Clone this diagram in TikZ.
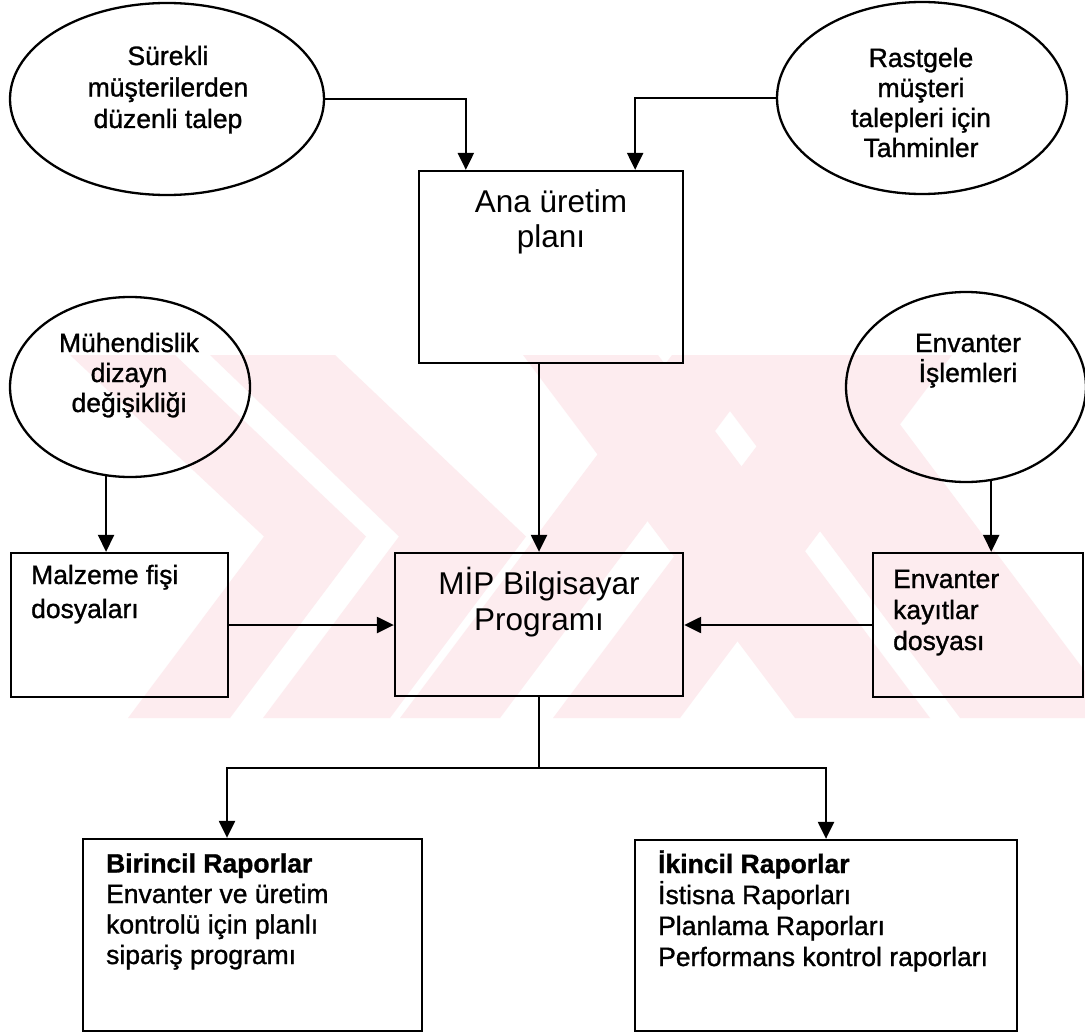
\documentclass[tikz,border=0pt]{standalone}
\usepackage{fontspec}
\setmainfont{Liberation Sans}
\newfontfamily\heavy[FakeBold=1.1]{Liberation Sans}
\usetikzlibrary{shapes.geometric,arrows.meta,calc}
\definecolor{wm}{RGB}{253,236,239}

\begin{document}
\begin{tikzpicture}[x=1pt,y=-1pt,line width=2.3pt,
  every node/.style={inner sep=0pt},
  arr/.style={-{Triangle[length=17pt,width=16pt]}},
  oval/.style={draw,ellipse,line width=2.3pt},
  frame/.style={draw,rectangle,line width=2.3pt},
  txt/.style={font=\heavy\fontsize{26.5}{#1}\selectfont},
  big/.style={font=\fontsize{31.5}{#1}\selectfont}]

\useasboundingbox (0,0) rectangle (1085,1033);
\fill[white] (0,0) rectangle (1085,1033);

% faint striped emblem in the background
\begin{scope}
  \clip (0,355) rectangle (1085,718);
  \foreach \a/\b/\c/\d in {70/175/128/230, 210/335/263/390}
    \fill[wm] (\a,355) -- (\b,355) -- ({\d+136},536.5) -- (\d,718) -- (\c,718) -- ({\c+136},536.5) -- cycle;
  \foreach \a/\b in {400/500, 553/680}
    \fill[wm] (\a,718) -- (\b,718) -- ({\b+272},355) -- ({\a+272},355) -- cycle;
  \foreach \a/\b in {795/930, 960/1120}
    \fill[wm] (\a,718) -- (\b,718) -- ({\b-272},355) -- ({\a-272},355) -- cycle;
\end{scope}

% inputs
\node[oval,minimum width=314pt,minimum height=192pt] (e1) at (167,99) {};
\node[oval,minimum width=290pt,minimum height=192pt] (e2) at (922,98) {};
\node[oval,minimum width=240pt,minimum height=180pt] (muh) at (130,387) {};
\node[oval,minimum width=240pt,minimum height=190pt] (envE) at (966,387) {};

% (anchor=base sits on the last line of each text)
\node[txt=31.5,align=center,anchor=base] (t1) at (168,128) {Sürekli\\müşterilerden\\düzenli talep};
\node[txt=30,align=center,anchor=base] (t2) at (921,157) {Rastgele\\müşteri\\talepleri için\\Tahminler};
\node[txt=30,align=center,anchor=base] (t3) at (129,412) {Mühendislik\\dizayn\\değişikliği};
\node[txt=30,align=center,anchor=base] (t4) at (968,382) {Envanter\\İşlemleri};

% files and processing
\node[frame,minimum width=264pt,minimum height=192pt] (ana) at (551,267) {};
\node[frame,minimum width=288pt,minimum height=143pt] (mip) at (539,624.5) {};
\node[frame,minimum width=217pt,minimum height=144pt] (malz) at (119.5,625) {};
\node[frame,minimum width=210pt,minimum height=144pt] (envbox) at (978,625) {};

\node[big=35,align=center,anchor=base] (t5) at (551,247) {Ana üretim\\planı};
\node[big=36,align=center,anchor=base] (t6) at (539,630) {MİP Bilgisayar\\Programı};
\node[txt=34,align=left,anchor=base west] (t7) at (30,618) {Malzeme fişi\\dosyaları};
\node[txt=31,align=left,anchor=base west] (t8) at (892,650) {Envanter\\kayıtlar\\dosyası};

% reports
\node[frame,minimum width=339pt,minimum height=192pt] (bir) at (252.5,935) {};
\node[frame,minimum width=382pt,minimum height=191pt] (iki) at (826,935.5) {};

\node[txt=30.5,align=left,anchor=base west] (t9) at (105,964)
  {{\bfseries Birincil Raporlar}\\Envanter ve üretim\\kontrolü için planlı\\sipariş programı};
\node[txt=31,align=left,anchor=base west] (t10) at (657,966)
  {{\bfseries İkincil Raporlar}\\İstisna Raporları\\Planlama Raporları\\Performans kontrol raporları};

% connectors
\draw[arr] (e1.east) -| ($(ana.north west)+(48,0)$);
\draw[arr] (e2.west) -| ($(ana.north east)+(-49,0)$);
\draw[arr] (ana.south -| mip.north) -- (mip.north);
\draw[arr] (muh.255.5) -- (muh.255.5 |- malz.north);
\draw[arr] (envE.285.7) -- (envE.285.7 |- envbox.north);
\draw[arr] (malz.east) -- (malz.east -| mip.west);
\draw[arr] (envbox.west) -- (envbox.west -| mip.east);

\coordinate (busL) at (227,768);
\draw (mip.south) -- (mip.south |- busL);
\draw[arr] (mip.south |- busL) -- (busL) -- (busL |- bir.north);
\draw[arr] (mip.south |- busL) -| (iki.north);

\end{tikzpicture}
\end{document}
